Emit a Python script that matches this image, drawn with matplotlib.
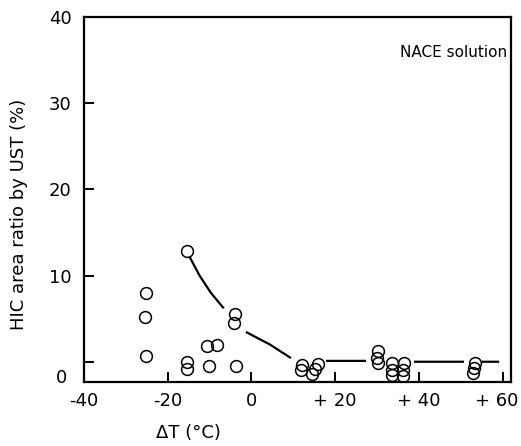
import numpy as np
from matplotlib import pyplot as plt
from matplotlib.transforms import ScaledTranslation

# measured points: delta T (deg C) vs HIC area ratio (%)
dt = [-15.5, -25.3, -25.5, -25.2, -15.3, -15.5, -10.7, -8.2, -10.2, -4.0, -4.2, -3.7,
      12.15, 11.8, 15.8, 15.2, 14.4,
      30.3, 29.9, 30.3, 33.5, 33.5, 33.5, 36.4, 36.3, 36.3,
      53.4, 53.2, 52.9]
hic = [12.9, 8.0, 5.2, 0.7, 0.0, -0.8, 1.8, 1.95, -0.5, 5.5, 4.5, -0.5,
       -0.4, -1.0, -0.3, -0.8, -1.4,
       1.2, 0.4, -0.15, -0.15, -0.9, -1.5, -0.15, -0.9, -1.6,
       -0.15, -0.7, -1.3]

# hand drawn trend line, broken where it meets the points
trend_x = [-14.7, -12.4, -9.7, -6.8, np.nan, -1.1, 4.4, 9.2, np.nan,
           18.05, 27.1, np.nan, 39.1, 50.5, np.nan, 55.3, 58.9]
trend_y = [12.1, 10.0, 8.0, 6.3, np.nan, 3.4, 2.0, 0.5, np.nan,
           0.1, 0.1, np.nan, 0.0, 0.0, np.nan, 0.0, 0.0]

xticks = [-40, -20, 0, 20, 40, 60]
xticklabels = ['-40', '-20', '0', '+ 20', '+ 40', '+ 60']
yticks = [0, 10, 20, 30, 40]
yticklabels = ['', '10', '20', '30', '40']

plt.rcParams['font.family'] = ['DejaVu Sans']

fig = plt.figure(figsize=(5.21, 4.46), dpi=100)
ax = fig.add_axes([84 / 521, 1 - 382 / 446, 427 / 521, 365 / 446])

ax.plot(trend_x, trend_y, color='black', lw=1.6)
ax.plot(dt, hic, 'o', ms=8.5, mfc='none', mec='black', mew=1.1)

ax.set_xlim(-40, 62)
ax.set_ylim(-2.35, 40)
ax.set_xticks(xticks)
ax.set_xticklabels(xticklabels)
ax.set_yticks(yticks)
ax.set_yticklabels(yticklabels)
ax.tick_params(direction='in', length=7, width=1.4, labelsize=13, pad=7)
ax.tick_params(axis='y', pad=9)
for s in ax.spines.values():
    s.set_linewidth(1.6)

# last x label sits at the figure edge, nudge it left
last = ax.get_xticklabels()[-1]
last.set_transform(last.get_transform() + ScaledTranslation(-0.06, 0, fig.dpi_scale_trans))

ax.annotate('0', xy=(0, 0), xycoords='axes fraction', xytext=(-16, 3),
            textcoords='offset points', ha='center', va='center', fontsize=13)

ax.set_ylabel('HIC area ratio by UST (%)', fontsize=13)
ax.yaxis.set_label_coords(-0.13, 0.46)
ax.text(0.245, -0.14, 'ΔT (°C)', transform=ax.transAxes, ha='center',
        va='center', fontsize=13)
ax.text(48.2, 35.9, 'NACE solution', ha='center', va='center', fontsize=11)

plt.savefig('out.png', dpi=100)
